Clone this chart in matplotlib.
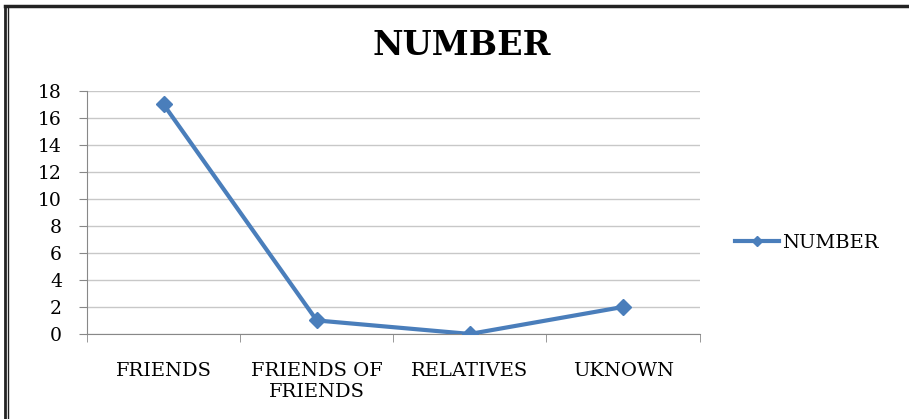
import matplotlib.pyplot as plt
from matplotlib.lines import Line2D

categories = ["FRIENDS", "FRIENDS OF\nFRIENDS", "RELATIVES", "UKNOWN"]
values = [17, 1, 0, 2]
series_name = "NUMBER"

plt.rcParams["font.family"] = ["DejaVu Serif"]

fig = plt.figure(figsize=(9.09, 4.19), dpi=100)
ax = fig.add_axes([0.0957, 0.203, 0.674, 0.580])

x = range(len(categories))
ax.plot(x, values, color="#4a7ebb", linewidth=3, marker="D", markersize=8,
        label=series_name, zorder=3)

ax.set_xlim(-0.5, len(categories) - 0.5)
ax.set_ylim(0, 18)
ax.set_yticks(range(0, 19, 2))
ax.set_xticks(list(x))
ax.set_xticklabels(categories, linespacing=1.25)
ax.set_xticks([i - 0.5 for i in range(len(categories) + 1)], minor=True)
ax.tick_params(axis="x", which="major", length=0, pad=20, labelsize=14)
ax.tick_params(axis="x", which="minor", length=6, color="#888888", direction="out")
ax.tick_params(axis="y", length=6, color="#888888", labelsize=13.5, pad=12)
ax.grid(axis="y", color="#c8c8c8", linewidth=1)
ax.set_axisbelow(True)
for s in ["top", "right"]:
    ax.spines[s].set_visible(False)
for s in ["left", "bottom"]:
    ax.spines[s].set_color("#888888")

fig.suptitle("NUMBER", x=0.508, y=0.93, fontsize=24, fontweight="bold")

ax.legend(loc="center left", bbox_to_anchor=(1.057, 0.375), frameon=False,
          borderaxespad=0, borderpad=0, fontsize=14, handlelength=2.3,
          handletextpad=0.15, markerscale=0.7)

# frame around the picture
fig.add_artist(Line2D([0.0055, 0.0055], [0, 0.985], color="#222222", lw=2))
fig.add_artist(Line2D([0.0088, 0.0088], [0, 0.985], color="#222222", lw=1))
fig.add_artist(Line2D([0.0055, 1], [0.985, 0.985], color="#222222", lw=2.5))

fig.savefig("out.png", dpi=100)
